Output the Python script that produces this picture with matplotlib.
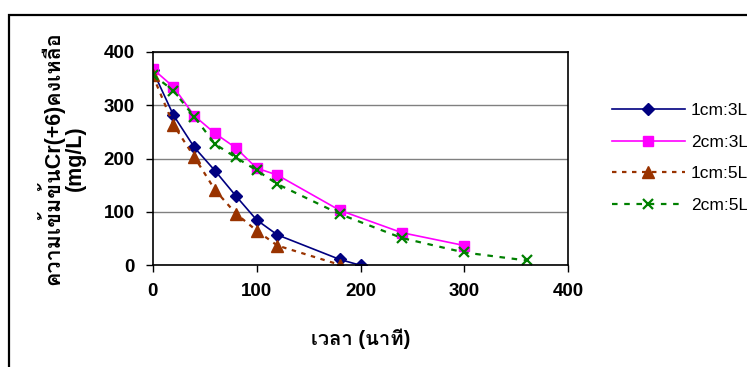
import matplotlib
matplotlib.use('Agg')
import matplotlib.pyplot as plt
from matplotlib.patches import Rectangle

# residual Cr(+6) over time for the four electrode / volume setups
time_a = [0, 20, 40, 60, 80, 100, 120, 180, 200]
cr_1cm_3L = [365, 281, 221, 177, 130, 85, 57, 11, 0]

time_b = [0, 20, 40, 60, 80, 100, 120, 180, 240, 300]
cr_2cm_3L = [368, 334, 280, 247, 220, 182, 169, 103, 61, 37]

time_c = [0, 20, 40, 60, 80, 100, 120, 180]
cr_1cm_5L = [356, 263, 203, 141, 97, 65, 37, 1]

time_d = [0, 20, 40, 60, 80, 100, 120, 180, 240, 300, 360]
cr_2cm_5L = [357, 327, 278, 227, 202, 178, 152, 96, 51, 24, 9]

labels = ['1cm:3L', '2cm:3L', '1cm:5L', '2cm:5L']
x_ticks = [0, 100, 200, 300, 400]
y_ticks = [0, 100, 200, 300, 400]

latin_thai = ['Liberation Sans', 'Loma', 'Noto Sans Thai Looped']
plt.rcParams['font.family'] = latin_thai

W, H = 747, 367
fig = plt.figure(figsize=(W / 100, H / 100), dpi=100)
fig.patch.set_facecolor('white')

# outer chart frame
fig.patches.append(Rectangle((9 / W, -0.1), 1.2, 1 - 15 / H + 0.1,
                             transform=fig.transFigure, fill=False,
                             edgecolor='black', linewidth=1.6))

ax = fig.add_axes([152.7 / W, 1 - 265.3 / H, 415.6 / W, 213.6 / H])

ax.plot(time_a, cr_1cm_3L, color='#000080', lw=1.2, marker='D', ms=6.5,
        label=labels[0])
ax.plot(time_b, cr_2cm_3L, color='#FF00FF', lw=1.2, marker='s', ms=7,
        label=labels[1])
ax.plot(time_c, cr_1cm_5L, color='#993300', lw=1.6, ls=(0, (2, 2.5)),
        marker='^', ms=8, label=labels[2])
ax.plot(time_d, cr_2cm_5L, color='#008000', lw=1.6, ls=(0, (2.5, 3)),
        marker='x', ms=7.5, mew=1.6, label=labels[3])

ax.set_xlim(0, 400)
ax.set_ylim(0, 400)
ax.set_xticks(x_ticks)
ax.set_yticks(y_ticks)
ax.set_xticklabels([str(v) for v in x_ticks], fontweight='bold', fontsize=13.5)
ax.set_yticklabels([str(v) for v in y_ticks], fontweight='bold', fontsize=13.5)
ax.tick_params(direction='out', length=5, width=1, pad=8)
ax.yaxis.grid(True, color='#808080', lw=1)
ax.set_axisbelow(True)
for sp in ax.spines.values():
    sp.set_linewidth(1.2)
    sp.set_color('black')
ax.patch.set_alpha(0)

ax.set_xlabel('เวลา (นาที)', fontweight='bold', fontsize=14.5, labelpad=20)
fig.text(61 / W, 1 - 158 / H, 'ความเข้มข้นCr(+6)คงเหลือ\n(mg/L)',
         rotation=90, ha='center', va='center', multialignment='center',
         fontweight='bold', fontsize=15.5, linespacing=1.05)

fig.legend(loc='center left', bbox_to_anchor=(605 / W, 1 - 158 / H),
           frameon=False, fontsize=12.5, handlelength=4.2,
           handletextpad=0.35, labelspacing=0.95, borderaxespad=0)

fig.savefig('out.png', dpi=100)
